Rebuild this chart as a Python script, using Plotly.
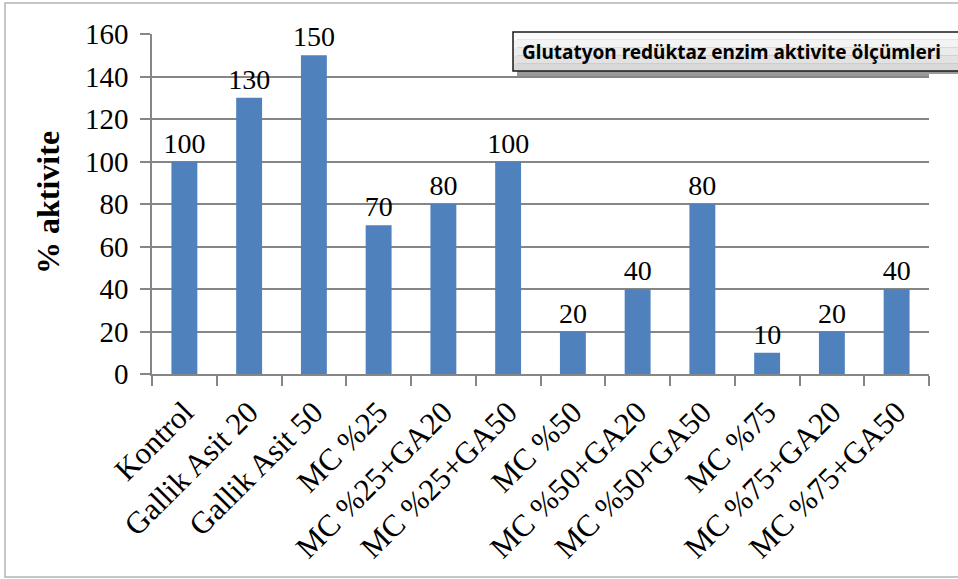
import plotly.graph_objects as go

# Glutathione reductase activity per treatment group (% of control)
categories = [
    "Kontrol", "Gallik Asit 20", "Gallik Asit 50",
    "MC %25", "MC %25+GA20", "MC %25+GA50",
    "MC %50", "MC %50+GA20", "MC %50+GA50",
    "MC %75", "MC %75+GA20", "MC %75+GA50",
]
activity = [100, 130, 150, 70, 80, 100, 20, 40, 80, 10, 20, 40]
y_ticks = [0, 20, 40, 60, 80, 100, 120, 140, 160]

W, H = 958, 579
L, R, T, B = 152, 929, 34, 374  # plot area in pixels

def px(x):
    return (x - L) / (R - L)

def py(y):
    return (B - y) / (B - T)

serif = "Liberation Serif"
axis_grey = "#868686"

fig = go.Figure(
    go.Bar(
        x=categories,
        y=activity,
        marker=dict(color="#4f81bd", line=dict(width=0)),
        text=activity,
        texttemplate="%{y}",
        textposition="outside",
        constraintext="none",
        textfont=dict(family=serif, size=28, color="black"),
        cliponaxis=False,
    )
)

shapes = [
    # outer chart border
    dict(type="rect", xref="paper", yref="paper",
         x0=px(5), x1=px(1000), y0=py(3), y1=py(577),
         line=dict(color="#b4b4b4", width=1.5), fillcolor="rgba(0,0,0,0)", layer="below"),
    # title box shadow
    dict(type="rect", xref="paper", yref="paper",
         x0=px(517), x1=px(929), y0=py(36), y1=py(76),
         line=dict(width=0), fillcolor="#9a9a9a", layer="above"),
    dict(type="rect", xref="paper", yref="paper",
         x0=px(929), x1=px(1000), y0=py(36), y1=py(74),
         line=dict(width=0), fillcolor="#9a9a9a", layer="above"),
]
# title box body, light grey shading from top to bottom
box_top, box_bot = 32, 71
bands = ["#fbfbfb", "#f3f3f3", "#ebebeb", "#e2e2e2", "#d9d9d9"]
step = (box_bot - box_top) / len(bands)
for i, c in enumerate(bands):
    shapes.append(dict(type="rect", xref="paper", yref="paper",
                       x0=px(513), x1=px(1000),
                       y0=py(box_top + (i + 1) * step), y1=py(box_top + i * step),
                       line=dict(width=0), fillcolor=c, layer="above"))
shapes.append(dict(type="rect", xref="paper", yref="paper",
                   x0=px(513), x1=px(1000), y0=py(box_bot), y1=py(box_top),
                   line=dict(color="#1a1a1a", width=1.5), fillcolor="rgba(0,0,0,0)", layer="above"))

annotations = [
    dict(text="<b>Glutatyon redüktaz enzim aktivite ölçümleri</b>",
         xref="paper", yref="paper", x=px(520), y=py(52),
         xanchor="left", yanchor="middle", showarrow=False,
         font=dict(family="Noto Sans", size=19, color="black")),
    dict(text="<b>% aktivite</b>", textangle=-90,
         xref="paper", yref="paper", x=px(48), y=py(203),
         xanchor="center", yanchor="middle", showarrow=False,
         font=dict(family=serif, size=32, color="black")),
]

fig.update_layout(
    width=W, height=H,
    margin=dict(l=L, r=W - R, t=T, b=H - B, pad=0),
    paper_bgcolor="white", plot_bgcolor="white",
    showlegend=False,
    bargap=0.6,
    shapes=shapes,
    annotations=annotations,
    xaxis=dict(
        type="category",
        tickangle=-45,
        tickfont=dict(family=serif, size=31, color="black"),
        showline=True, linecolor=axis_grey, linewidth=1.5,
        ticks="outside", tickson="boundaries", ticklen=10,
        tickcolor=axis_grey, tickwidth=1.5,
        showgrid=False,
        ticklabelstandoff=6,
    ),
    yaxis=dict(
        range=[0, 160],
        tickvals=y_ticks,
        tickfont=dict(family=serif, size=29, color="black"),
        showline=True, linecolor=axis_grey, linewidth=1.5,
        ticks="outside", ticklen=10, tickcolor=axis_grey, tickwidth=1.5,
        showgrid=True, gridcolor=axis_grey, gridwidth=1.5,
        zeroline=False,
        ticklabelstandoff=6,
    ),
)

fig.write_html("out.html")
